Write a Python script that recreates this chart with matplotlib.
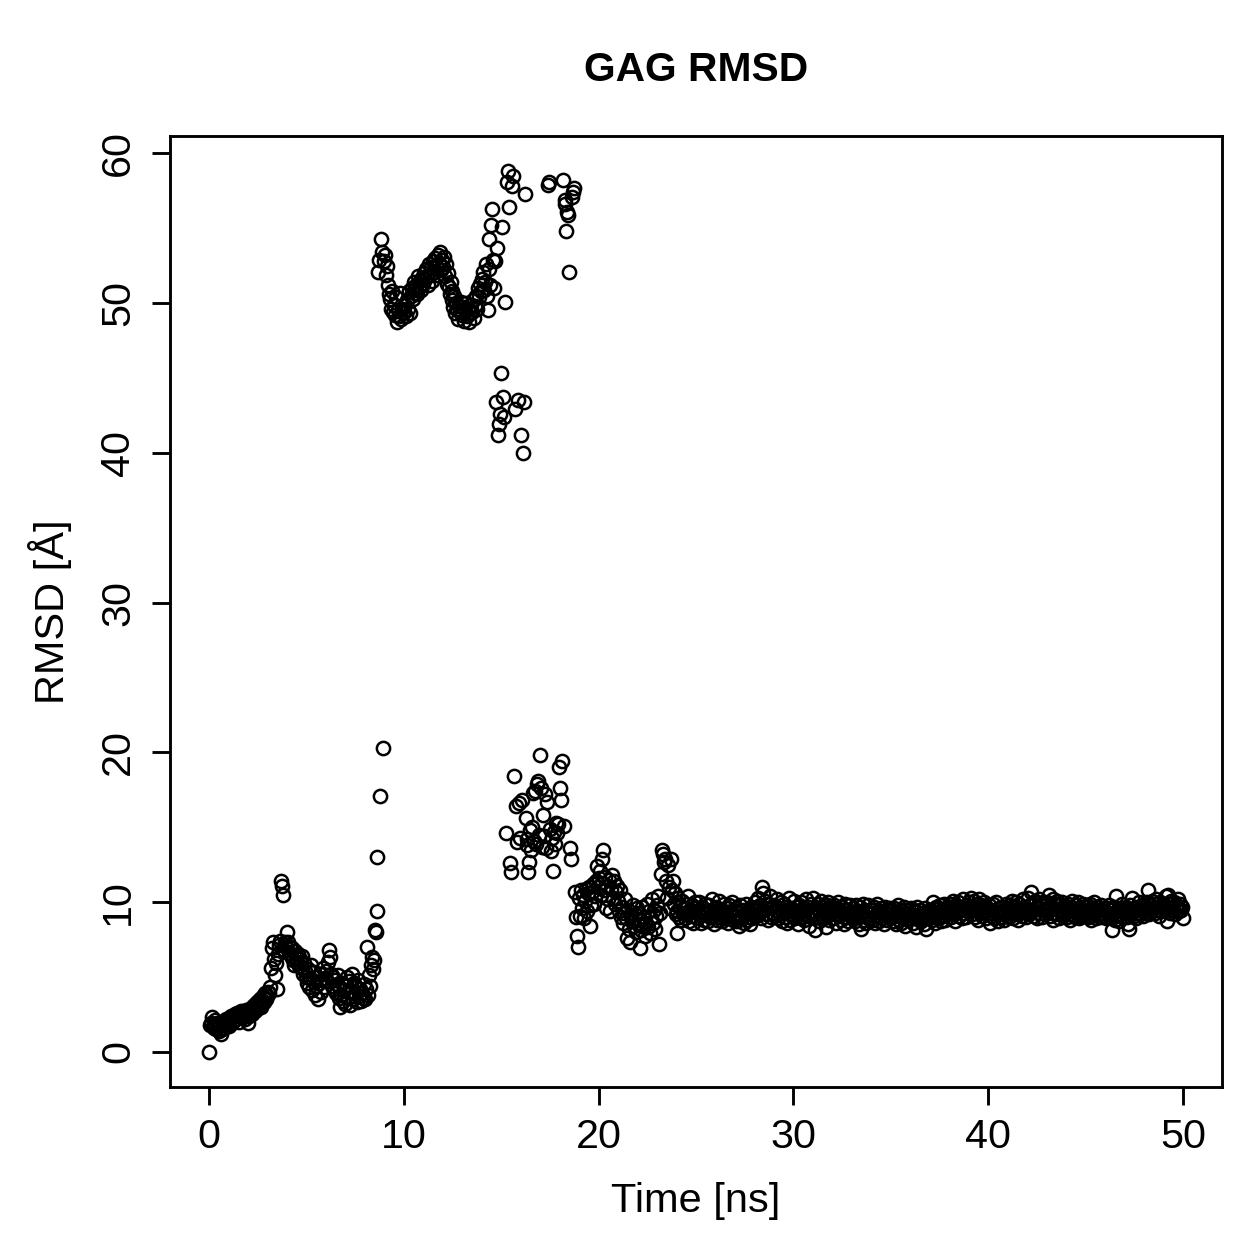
import numpy as np
import matplotlib
matplotlib.use("Agg")
import matplotlib.pyplot as plt

plt.rcParams['font.family'] = ['Liberation Sans', 'DejaVu Sans']

# RMSD of the GAG chain, one frame every 0.05 ns (rows = 1 ns each)
time_step = 0.05
rmsd_rows = [
    # 0 ns
    [0.0, 1.8, 1.9, 2.3, 1.7, 1.6, 2.1, 1.5, 1.9, 1.7, 1.4, 1.8, 1.2, 1.5, 2.0, 1.6, 1.9, 1.7, 2.2, 1.8],
    [2.0, 1.7, 2.2, 2.4, 1.9, 2.3, 2.1, 2.5, 2.2, 2.6, 2.4, 2.0, 2.5, 2.7, 2.3, 2.6, 2.4, 2.2, 2.8, 2.5],
    [1.9, 2.4, 2.7, 2.9, 2.5, 2.8, 3.1, 2.7, 3.0, 3.3, 2.9, 3.2, 3.5, 3.0, 3.4, 3.7, 3.3, 3.6, 3.9, 3.5],
    [3.7, 4.0, 3.9, 4.3, 5.6, 6.9, 7.3, 6.2, 5.1, 5.9, 4.2, 6.5, 7.1, 7.4, 11.4, 11.1, 10.5, 6.8, 7.3, 7.0],
    [8.0, 7.3, 6.6, 7.0, 6.4, 6.9, 6.1, 5.8, 6.7, 6.3, 6.0, 6.5, 5.7, 6.2, 5.9, 6.4, 5.6, 5.2, 5.9, 5.4],
    # 5 ns
    [5.0, 4.6, 5.5, 4.3, 4.9, 5.8, 4.1, 4.7, 5.3, 3.8, 4.4, 5.0, 3.5, 4.6, 5.2, 4.0, 4.8, 5.6, 4.3, 4.9],
    [5.4, 4.7, 6.0, 6.8, 6.3, 5.2, 4.4, 5.0, 4.2, 4.8, 3.9, 4.5, 5.1, 3.6, 4.3, 3.0, 3.8, 4.6, 3.4, 4.1],
    [3.2, 4.4, 5.0, 3.6, 4.7, 3.1, 4.0, 5.2, 3.5, 4.6, 3.9, 4.3, 3.3, 4.8, 3.7, 4.2, 3.4, 3.9, 3.6, 4.5],
    [3.5, 4.2, 7.0, 3.8, 5.1, 4.4, 5.8, 6.3, 5.5, 6.1, 8.1, 8.0, 9.4, 13.0, 52.1, 52.9, 17.1, 54.3, 53.4, 20.3],
    [52.8, 53.2, 51.9, 52.5, 51.2, 50.6, 50.3, 49.6, 50.8, 49.4, 49.9, 49.2, 50.4, 48.7, 49.5, 49.1, 50.7, 48.9, 49.6, 49.3],
    # 10 ns
    [49.4, 49.9, 49.1, 50.2, 49.6, 50.8, 49.3, 50.5, 51.0, 50.3, 50.9, 51.4, 50.7, 51.2, 50.6, 51.8, 51.1, 51.5, 50.9, 51.7],
    [51.3, 52.0, 51.6, 52.3, 51.8, 51.2, 52.6, 51.9, 52.4, 51.5, 52.8, 52.1, 53.0, 52.5, 51.9, 53.2, 52.7, 53.4, 52.2, 52.9],
    [52.4, 53.1, 51.8, 52.6, 51.3, 52.0, 51.1, 50.6, 51.4, 50.2, 50.8, 49.7, 50.5, 49.3, 50.0, 49.6, 48.9, 49.8, 49.4, 50.1],
    [49.2, 49.7, 48.8, 49.5, 50.0, 49.1, 49.6, 48.7, 49.3, 49.9, 49.4, 50.2, 49.0, 49.8, 50.5, 49.6, 51.0, 50.4, 51.3, 50.8],
    [51.6, 52.1, 50.9, 51.4, 52.6, 50.5, 49.5, 52.3, 54.3, 51.2, 55.2, 56.3, 52.9, 51.0, 52.8, 43.4, 53.7, 41.2, 41.9, 42.6],
    # 15 ns
    [45.3, 55.1, 43.7, 42.4, 50.1, 14.6, 58.1, 58.8, 56.4, 12.6, 12.0, 57.8, 58.5, 18.4, 42.9, 16.4, 14.0, 43.5, 16.6, 14.3],
    [41.2, 16.8, 40.0, 43.4, 57.3, 15.6, 14.2, 13.8, 12.0, 12.7, 14.8, 13.5, 15.0, 17.3, 14.1, 17.4, 13.9, 17.9, 18.1, 14.5],
    [19.8, 17.6, 13.7, 15.8, 14.4, 17.2, 13.6, 16.7, 57.9, 58.1, 14.9, 13.4, 14.3, 12.1, 14.7, 13.9, 15.3, 14.6, 15.2, 19.0],
    [17.6, 16.8, 19.4, 58.2, 15.1, 56.9, 56.6, 54.8, 56.1, 55.9, 52.1, 13.6, 12.9, 57.1, 57.4, 57.7, 10.7, 9.0, 7.7, 7.0],
    [10.3, 9.1, 10.8, 9.6, 10.5, 8.9, 10.1, 10.9, 9.4, 10.6, 11.0, 8.4, 9.8, 10.7, 11.2, 9.9, 10.4, 11.4, 12.4, 11.0],
    # 20 ns
    [11.6, 12.1, 10.5, 11.3, 12.9, 13.5, 10.8, 11.7, 9.6, 11.1, 10.2, 11.5, 9.4, 10.9, 11.8, 10.3, 11.4, 9.9, 10.7, 11.1],
    [10.1, 9.4, 10.8, 9.0, 9.7, 8.6, 9.3, 10.2, 8.9, 7.6, 9.5, 8.2, 7.3, 9.1, 8.7, 9.8, 8.4, 9.2, 8.0, 9.6],
    [8.5, 9.3, 6.9, 8.8, 8.1, 9.7, 8.4, 9.0, 7.7, 8.6, 9.9, 8.3, 9.4, 7.9, 8.9, 10.2, 8.6, 9.5, 8.2, 9.1],
    [9.8, 10.4, 7.2, 9.3, 11.9, 13.5, 13.2, 12.7, 12.9, 11.4, 10.3, 12.5, 11.0, 9.6, 12.9, 10.8, 11.4, 9.9, 10.6, 9.2],
    [7.9, 9.4, 10.3, 9.0, 9.7, 8.8, 10.1, 9.3, 9.6, 8.9, 9.9, 9.2, 10.4, 8.7, 9.5, 9.1, 9.8, 8.6, 9.4, 10.0],
    # 25 ns
    [9.6, 8.9, 9.4, 10.0, 9.1, 8.6, 9.7, 9.3, 8.8, 9.9, 9.2, 9.5, 8.7, 9.8, 9.0, 9.4, 10.2, 9.1, 8.5, 9.6],
    [9.2, 9.7, 8.8, 9.4, 10.1, 9.0, 9.5, 8.7, 9.3, 9.9, 8.9, 9.6, 9.1, 8.6, 9.8, 9.2, 9.4, 10.0, 8.8, 9.5],
    [9.0, 9.6, 8.7, 9.3, 8.4, 9.8, 9.1, 8.9, 9.5, 8.6, 9.2, 9.9, 8.8, 9.4, 9.0, 8.5, 9.7, 9.3, 8.9, 9.6],
    [9.4, 10.0, 9.1, 9.7, 10.3, 9.3, 9.8, 8.9, 11.0, 10.6, 9.5, 10.1, 9.2, 9.9, 8.8, 9.6, 10.4, 9.0, 9.7, 9.3],
    [9.8, 9.1, 9.5, 10.2, 8.9, 9.6, 9.3, 10.0, 8.7, 9.4, 9.9, 9.0, 9.7, 8.6, 9.5, 10.3, 9.2, 8.8, 9.6, 9.1],
    # 30 ns
    [9.4, 10.1, 8.9, 9.7, 9.2, 8.5, 9.8, 9.3, 10.0, 9.0, 9.6, 8.8, 9.5, 10.2, 9.1, 9.7, 8.4, 9.3, 9.9, 9.2],
    [10.3, 9.0, 8.1, 9.6, 9.2, 9.9, 8.7, 9.4, 10.1, 9.1, 9.7, 8.9, 9.5, 8.3, 9.8, 9.3, 10.0, 8.8, 9.6, 9.2],
    [9.5, 8.9, 9.8, 9.2, 8.6, 9.6, 10.0, 9.1, 9.4, 8.8, 9.7, 9.3, 8.5, 9.9, 9.0, 9.5, 8.7, 9.2, 9.8, 9.1],
    [8.9, 9.6, 9.2, 8.7, 9.8, 9.0, 9.4, 8.5, 9.7, 8.2, 9.3, 9.9, 8.8, 9.5, 9.1, 8.6, 9.4, 9.8, 8.9, 9.2],
    [9.5, 8.8, 9.3, 9.7, 8.6, 9.1, 9.9, 9.0, 8.7, 9.4, 9.6, 8.9, 9.2, 8.5, 9.7, 9.3, 8.8, 9.5, 9.0, 9.6],
    # 35 ns
    [9.0, 9.4, 8.7, 9.6, 9.1, 8.5, 9.3, 9.8, 8.8, 9.2, 8.6, 9.5, 9.0, 8.9, 9.7, 8.4, 9.2, 9.5, 8.8, 9.3],
    [8.9, 9.6, 9.2, 8.6, 9.4, 9.0, 8.3, 9.7, 9.1, 8.8, 9.5, 8.7, 9.3, 9.0, 8.5, 9.6, 8.2, 9.2, 9.4, 8.9],
    [9.1, 9.5, 8.8, 10.0, 9.2, 8.6, 9.7, 9.3, 8.9, 9.6, 9.0, 9.8, 8.7, 9.4, 9.1, 9.9, 8.8, 9.5, 9.2, 9.7],
    [9.3, 9.9, 9.0, 9.6, 10.1, 9.2, 8.7, 9.8, 9.4, 10.0, 9.1, 9.7, 9.5, 8.9, 10.2, 9.3, 9.6, 9.0, 9.8, 9.4],
    [10.0, 9.4, 10.3, 9.2, 9.7, 10.1, 9.0, 9.6, 9.9, 8.8, 9.5, 10.2, 9.3, 9.8, 9.1, 9.7, 10.0, 9.4, 8.9, 9.6],
    # 40 ns
    [9.3, 9.8, 8.6, 9.5, 9.1, 9.9, 8.9, 9.4, 10.0, 9.2, 8.7, 9.6, 9.3, 9.0, 9.7, 9.2, 8.8, 9.5, 9.9, 9.1],
    [9.6, 9.0, 9.8, 9.3, 10.1, 8.9, 9.5, 9.7, 9.2, 10.0, 9.4, 8.8, 9.9, 9.3, 9.6, 9.1, 10.2, 9.4, 9.7, 9.0],
    [9.5, 10.3, 9.2, 9.8, 10.7, 9.4, 9.9, 9.1, 10.1, 9.6, 8.9, 9.7, 10.2, 9.3, 9.8, 9.0, 10.0, 9.5, 9.2, 9.9],
    [10.0, 9.4, 10.5, 9.1, 9.7, 9.3, 10.2, 8.8, 9.6, 9.9, 9.2, 10.1, 9.5, 8.9, 9.8, 9.4, 10.0, 9.1, 9.7, 9.3],
    [9.6, 9.0, 9.9, 9.4, 8.8, 9.7, 10.1, 9.2, 9.5, 9.0, 9.8, 9.3, 10.0, 8.9, 9.6, 9.4, 9.1, 9.9, 9.3, 9.7],
    # 45 ns
    [9.2, 9.8, 9.0, 9.5, 9.9, 9.1, 8.8, 9.6, 9.3, 10.0, 9.4, 8.9, 9.7, 9.2, 9.5, 9.0, 9.8, 9.3, 9.6, 9.1],
    [9.4, 8.9, 9.6, 9.2, 9.8, 9.0, 9.5, 8.1, 9.3, 9.7, 8.8, 10.4, 9.1, 9.4, 8.7, 9.6, 9.2, 9.9, 9.0, 9.5],
    [9.3, 9.7, 9.0, 8.5, 9.5, 8.2, 9.8, 9.2, 10.3, 9.4, 9.1, 9.6, 8.9, 9.7, 9.3, 10.0, 9.2, 9.5, 9.8, 9.1],
    [9.7, 9.3, 10.0, 9.5, 10.8, 9.2, 9.8, 9.4, 10.1, 9.6, 9.9, 9.3, 10.2, 9.5, 9.7, 9.1, 10.0, 9.4, 9.8, 9.6],
    [9.8, 9.4, 10.4, 9.6, 8.7, 10.5, 9.9, 9.3, 10.1, 9.7, 9.5, 10.0, 9.2, 9.8, 9.6, 10.2, 9.4, 9.9, 9.5, 9.7],
    # 50 ns
    [8.9],
]
rmsd = np.concatenate([np.array(r) for r in rmsd_rows])
time = np.arange(len(rmsd)) * time_step

x_ticks = [0, 10, 20, 30, 40, 50]
y_ticks = [0, 10, 20, 30, 40, 50, 60]

W = H = 1259
fig = plt.figure(figsize=(W / 180, H / 180), dpi=180)
# plot box in pixels: left 170, right 1222, top 136, bottom 1087
ax = fig.add_axes([170 / W, 1 - 1087 / H, (1222 - 170) / W, (1087 - 136) / H])

ax.plot(time, rmsd, linestyle='none', marker='o', markersize=5.3,
        markerfacecolor='none', markeredgecolor='black', markeredgewidth=1.0)

# R style 4% padding around the data range
xpad = 0.04 * (time.max() - time.min())
ypad = 0.04 * (rmsd.max() - rmsd.min())
ax.set_xlim(time.min() - xpad, time.max() + xpad)
ax.set_ylim(rmsd.min() - ypad, rmsd.max() + ypad)

ax.set_xticks(x_ticks)
ax.set_yticks(y_ticks)
ax.set_yticklabels([str(v) for v in y_ticks], rotation=90, va='center')
ax.tick_params(direction='out', length=7.2, width=1.15, labelsize=16.5, colors='black')
ax.tick_params(axis='x', pad=5)
ax.tick_params(axis='y', pad=6)
for s in ax.spines.values():
    s.set_linewidth(1.15)

fig.text(696 / W, 1 - 70 / H, "GAG RMSD", fontsize=16.3, fontweight='bold',
         ha='center', va='center')
fig.text(696 / W, 1 - 1201 / H, "Time [ns]", fontsize=16.6, ha='center', va='center')
fig.text(50 / W, 1 - 612 / H, "RMSD [Å]", fontsize=16.6, ha='center', va='center',
         rotation=90)

fig.savefig("out.png", dpi=180)
